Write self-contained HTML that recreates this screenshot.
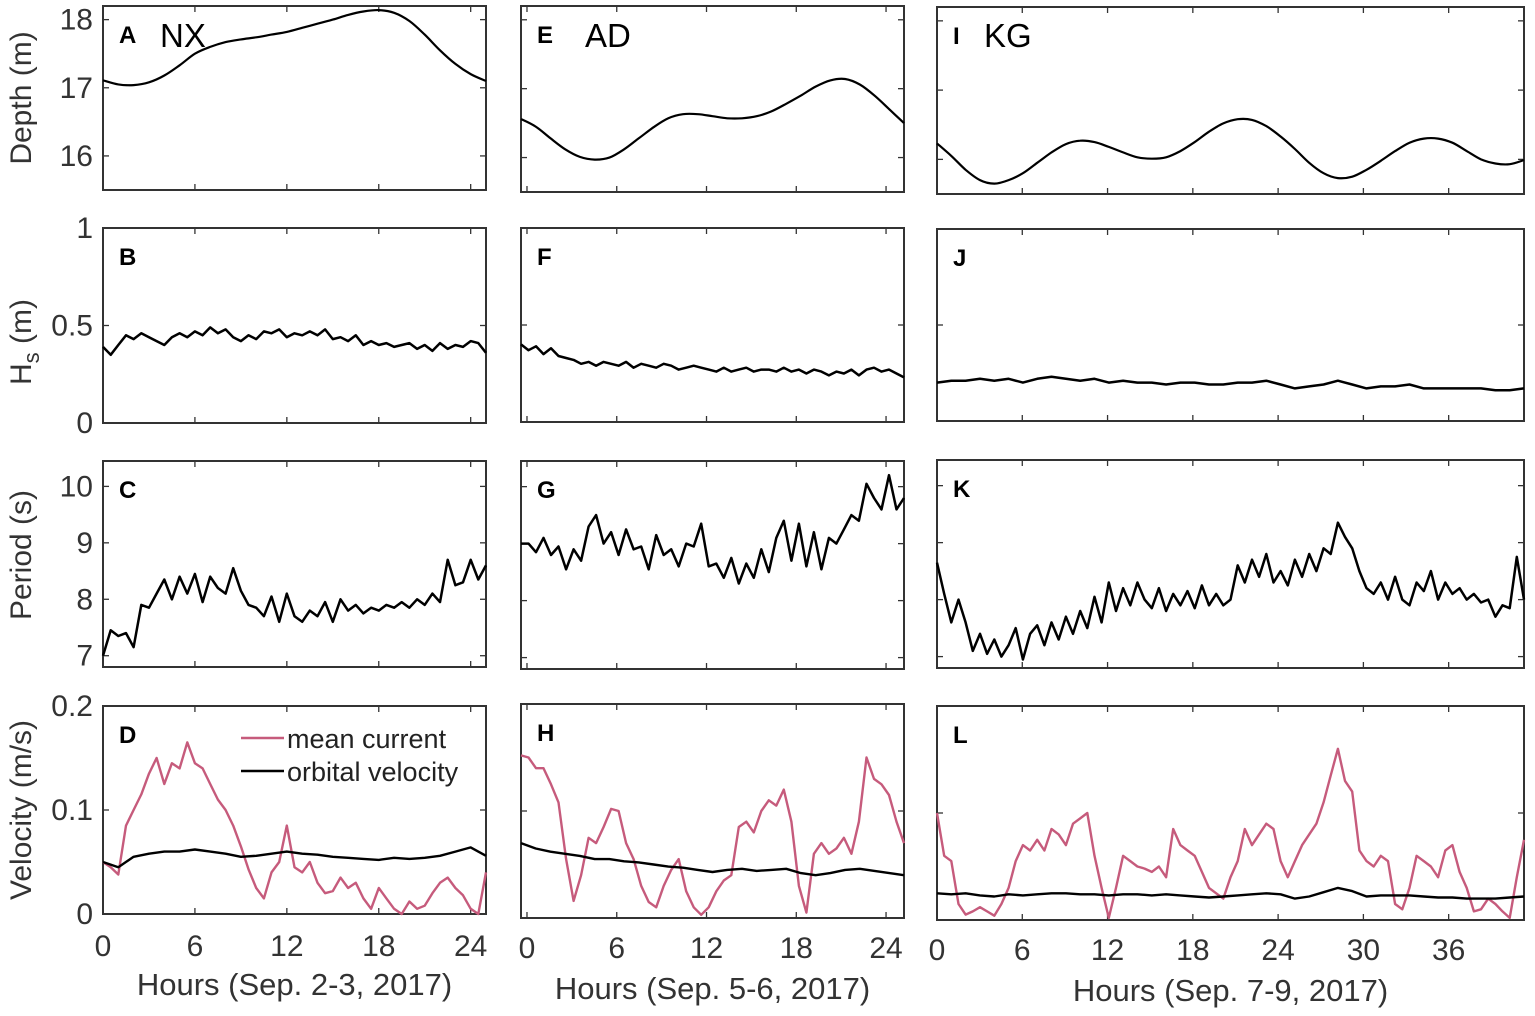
<!DOCTYPE html>
<html><head><meta charset="utf-8">
<style>
html,body{margin:0;padding:0;background:#fff;}
svg{display:block;font-family:"Liberation Sans",Arial,sans-serif;}
</style></head>
<body>
<svg id="fig" width="1535" height="1016" viewBox="0 0 1535 1016" xmlns="http://www.w3.org/2000/svg"></svg>
<script>
// ---------- data ----------
const depthNX = [17.11,17.05,17.04,17.08,17.18,17.33,17.5,17.6,17.67,17.71,17.74,17.78,17.82,17.88,17.94,18.0,18.07,18.12,18.14,18.1,17.98,17.78,17.55,17.35,17.2,17.1];
const depthAD = [16.56,16.45,16.28,16.12,16.01,15.97,16.0,16.12,16.28,16.44,16.57,16.63,16.63,16.6,16.57,16.57,16.6,16.67,16.78,16.9,17.03,17.12,17.14,17.06,16.9,16.7,16.5];
const depthKG = [16.23,16.05,15.85,15.7,15.65,15.7,15.8,15.95,16.1,16.22,16.27,16.25,16.18,16.1,16.03,16.01,16.03,16.12,16.25,16.4,16.52,16.58,16.57,16.48,16.33,16.15,15.95,15.8,15.73,15.75,15.85,15.98,16.12,16.24,16.3,16.3,16.24,16.12,16.0,15.94,15.93,15.99];

const hsNX = [0.39,0.35,0.40,0.45,0.43,0.46,0.44,0.42,0.40,0.44,0.46,0.44,0.47,0.45,0.49,0.46,0.48,0.44,0.42,0.45,0.43,0.47,0.46,0.48,0.44,0.46,0.45,0.47,0.45,0.48,0.43,0.44,0.42,0.45,0.40,0.42,0.40,0.41,0.39,0.40,0.41,0.38,0.40,0.37,0.41,0.38,0.40,0.39,0.42,0.41,0.36];
const hsAD = [0.40,0.37,0.39,0.35,0.38,0.34,0.33,0.32,0.30,0.31,0.29,0.31,0.30,0.29,0.31,0.28,0.30,0.29,0.28,0.30,0.29,0.27,0.28,0.29,0.28,0.27,0.26,0.28,0.26,0.27,0.28,0.26,0.27,0.27,0.26,0.28,0.26,0.27,0.25,0.27,0.26,0.24,0.26,0.25,0.27,0.24,0.27,0.28,0.26,0.27,0.25,0.23];
const hsKG = [0.20,0.21,0.21,0.22,0.21,0.22,0.20,0.22,0.23,0.22,0.21,0.22,0.20,0.21,0.20,0.20,0.19,0.20,0.20,0.19,0.19,0.20,0.20,0.21,0.19,0.17,0.18,0.19,0.21,0.19,0.17,0.18,0.18,0.19,0.17,0.17,0.17,0.17,0.17,0.16,0.16,0.17];

const perNX = [7.0,7.45,7.35,7.4,7.15,7.9,7.85,8.1,8.35,8.0,8.4,8.1,8.45,7.95,8.4,8.2,8.1,8.55,8.15,7.9,7.85,7.7,8.05,7.6,8.1,7.7,7.6,7.8,7.7,7.95,7.6,8.0,7.8,7.9,7.75,7.85,7.8,7.9,7.85,7.95,7.85,8.0,7.9,8.1,7.95,8.7,8.25,8.3,8.7,8.35,8.6];
const perAD = [9.0,9.0,8.85,9.1,8.8,8.95,8.55,8.9,8.7,9.3,9.5,9.0,9.2,8.8,9.25,8.9,8.95,8.55,9.15,8.8,8.9,8.6,9.0,8.95,9.35,8.6,8.65,8.4,8.75,8.3,8.65,8.4,8.9,8.5,9.1,9.4,8.7,9.35,8.6,9.2,8.55,9.1,9.0,9.25,9.5,9.4,10.05,9.8,9.6,10.2,9.6,9.8];
const perKG = [8.65,8.1,7.6,8.0,7.6,7.1,7.4,7.05,7.3,7.0,7.2,7.5,6.95,7.4,7.55,7.2,7.6,7.3,7.7,7.4,7.8,7.5,8.05,7.6,8.3,7.8,8.2,7.9,8.3,8.0,7.85,8.2,7.8,8.1,7.9,8.15,7.85,8.25,7.9,8.1,7.9,8.0,8.6,8.3,8.7,8.4,8.8,8.3,8.5,8.25,8.7,8.4,8.8,8.5,8.9,8.8,9.35,9.1,8.9,8.5,8.2,8.1,8.3,8.0,8.4,8.0,7.9,8.3,8.15,8.5,8.0,8.3,8.1,8.2,8.0,8.1,7.95,8.0,7.7,7.9,7.85,8.75,8.0];

const curNX = [0.050,0.045,0.038,0.085,0.100,0.115,0.135,0.150,0.125,0.145,0.140,0.165,0.145,0.140,0.125,0.110,0.100,0.085,0.065,0.043,0.025,0.015,0.040,0.050,0.085,0.045,0.040,0.050,0.030,0.020,0.022,0.035,0.025,0.030,0.015,0.005,0.025,0.015,0.005,0.000,0.012,0.005,0.008,0.020,0.030,0.035,0.025,0.018,0.005,0.000,0.040];
const orbNX = [0.050,0.045,0.055,0.058,0.060,0.060,0.062,0.060,0.058,0.055,0.056,0.058,0.060,0.058,0.057,0.055,0.054,0.053,0.052,0.054,0.053,0.054,0.056,0.060,0.064,0.056];
const curAD = [0.152,0.150,0.140,0.140,0.125,0.108,0.055,0.016,0.040,0.075,0.070,0.085,0.102,0.100,0.070,0.055,0.030,0.015,0.010,0.030,0.045,0.055,0.025,0.010,0.003,0.010,0.025,0.035,0.040,0.085,0.090,0.080,0.100,0.110,0.105,0.120,0.090,0.030,0.005,0.060,0.070,0.060,0.065,0.075,0.060,0.090,0.150,0.130,0.125,0.115,0.090,0.070];
const orbAD = [0.070,0.065,0.062,0.060,0.058,0.055,0.055,0.053,0.052,0.050,0.048,0.047,0.045,0.043,0.045,0.046,0.044,0.045,0.046,0.042,0.040,0.042,0.045,0.046,0.044,0.042,0.040];
const curKG = [0.100,0.060,0.055,0.015,0.005,0.008,0.012,0.008,0.004,0.015,0.030,0.055,0.070,0.065,0.075,0.065,0.085,0.080,0.070,0.090,0.095,0.100,0.060,0.030,0.002,0.030,0.060,0.055,0.050,0.048,0.045,0.050,0.040,0.085,0.070,0.065,0.060,0.045,0.030,0.025,0.020,0.040,0.055,0.085,0.070,0.080,0.090,0.085,0.055,0.040,0.055,0.070,0.080,0.090,0.110,0.135,0.160,0.130,0.120,0.065,0.055,0.050,0.060,0.055,0.015,0.010,0.030,0.060,0.055,0.050,0.040,0.065,0.070,0.045,0.030,0.008,0.010,0.020,0.015,0.008,0.002,0.040,0.075];
const orbKG = [0.025,0.024,0.025,0.023,0.022,0.024,0.023,0.024,0.025,0.025,0.024,0.024,0.023,0.024,0.024,0.023,0.024,0.023,0.022,0.021,0.022,0.023,0.024,0.025,0.024,0.020,0.022,0.026,0.030,0.027,0.022,0.023,0.023,0.023,0.022,0.021,0.021,0.020,0.020,0.020,0.021,0.022];

const xTicks12 = [0,6,12,18,24];
const xTicks3 = [0,6,12,18,24,30,36];
const depthTicks = [16,17,18];
const hsTicks = [0,0.5,1];
const hsTickLabels = ["0","0.5","1"];
const perTicks = [7,8,9,10];
const velTicks = [0,0.1,0.2];
const velTickLabels = ["0","0.1","0.2"];
const letters = ["A","B","C","D","E","F","G","H","I","J","K","L"];
const sites = ["NX","AD","KG"];
const xTitles = ["Hours (Sep. 2-3, 2017)","Hours (Sep. 5-6, 2017)","Hours (Sep. 7-9, 2017)"];

// ---------- layout ----------
const NS="http://www.w3.org/2000/svg";
const svg=document.getElementById('fig');
const cols=[
 {x0:103,x1:486,tmin:0,tmax:25,end:25,ticks:xTicks12},
 {x0:521,x1:904,tmin:-0.4,tmax:25.2,end:25.2,ticks:xTicks12},
 {x0:937,x1:1524,tmin:0,tmax:41.3,end:41.3,ticks:xTicks3}
];
const rows=[
 {boxes:[[6,190],[6,192],[7,194]],ymin:15.5,ymax:18.2,ticks:depthTicks,labels:["16","17","18"]},
 {boxes:[[228,423],[228,422],[229,421]],ymin:0,ymax:1,ticks:hsTicks,labels:hsTickLabels},
 {boxes:[[461,667],[461,669],[460,668]],ymin:6.8,ymax:10.45,ticks:perTicks,labels:["7","8","9","10"]},
 {boxes:[[706,914],[704,918],[706,920]],ymin:0,ymax:0.2,ticks:velTicks,labels:velTickLabels}
];
function el(tag,attrs,parent){const e=document.createElementNS(NS,tag);for(const k in attrs)e.setAttribute(k,attrs[k]);(parent||svg).appendChild(e);return e;}
function xScale(c,t){return c.x0+(t-c.tmin)/(c.tmax-c.tmin)*(c.x1-c.x0);}
function yScale(r,ci,v){const b=r.boxes[ci];return b[1]-(v-r.ymin)/(r.ymax-r.ymin)*(b[1]-b[0]);}
function series(ci,ri,vals,color,name,w,smooth){
  const c=cols[ci],r=rows[ri];
  const n=vals.length;const dt=(c.end-c.tmin)/(n-1);
  const pts=vals.map((v,i)=>[xScale(c,c.tmin+i*dt),yScale(r,ci,v)]);
  let d='M'+pts[0][0].toFixed(1)+','+pts[0][1].toFixed(1);
  if(smooth){
    for(let i=0;i<n-1;i++){
      const p0=pts[Math.max(0,i-1)],p1=pts[i],p2=pts[i+1],p3=pts[Math.min(n-1,i+2)];
      const c1=[p1[0]+(p2[0]-p0[0])/6,p1[1]+(p2[1]-p0[1])/6];
      const c2=[p2[0]-(p3[0]-p1[0])/6,p2[1]-(p3[1]-p1[1])/6];
      d+=' C'+c1[0].toFixed(1)+','+c1[1].toFixed(1)+' '+c2[0].toFixed(1)+','+c2[1].toFixed(1)+' '+p2[0].toFixed(1)+','+p2[1].toFixed(1);
    }
  } else {
    for(let i=1;i<n;i++) d+=' L'+pts[i][0].toFixed(1)+','+pts[i][1].toFixed(1);
  }
  const p=el('path',{d:d,fill:'none',stroke:color,'stroke-width':w,'stroke-linejoin':'round'});
  
  
}

// panels
for(let ri=0;ri<4;ri++){
  for(let ci=0;ci<3;ci++){
    const c=cols[ci],r=rows[ri],b=r.boxes[ci];
    const g=el('g',{});
    
    
    c.ticks.forEach(t=>{
      const x=xScale(c,t);
      el('line',{x1:x,x2:x,y1:b[1],y2:b[1]-6,stroke:'#333','stroke-width':1.3},g);
      el('line',{x1:x,x2:x,y1:b[0],y2:b[0]+6,stroke:'#333','stroke-width':1.3},g);
    });
    r.ticks.forEach((v,k)=>{
      const y=yScale(r,ci,v);
      el('line',{x1:c.x0,x2:c.x0+6,y1:y,y2:y,stroke:'#333','stroke-width':1.3},g);
      el('line',{x1:c.x1,x2:c.x1-6,y1:y,y2:y,stroke:'#333','stroke-width':1.3},g);
      if(ci===0){
        const t=el('text',{x:93,y:y+10,'text-anchor':'end','font-size':30,fill:'#333'},g);
        t.textContent=r.labels[k];
        
        
      }
    });
    const box=el('rect',{x:c.x0,y:b[0],width:c.x1-c.x0,height:b[1]-b[0],fill:'none',stroke:'#333','stroke-width':2},g);
    
    
    const lt=el('text',{x:c.x0+16,y:b[0]+37,'font-size':24,'font-weight':'bold',fill:'#000'},g);
    lt.textContent=letters[ci*4+ri];
    
    
  }
}
[[160,47],[585,47],[984,47]].forEach((p,i)=>{
  const t=el('text',{x:p[0],y:p[1],'font-size':33,fill:'#000'});
  t.textContent=sites[i];
  
  
});
series(0,0,depthNX,'#000','depth-nx',2.2,true);
series(1,0,depthAD,'#000','depth-ad',2.2,true);
series(2,0,depthKG,'#000','depth-kg',2.2,true);
series(0,1,hsNX,'#000','hs-nx',2.5,false);
series(1,1,hsAD,'#000','hs-ad',2.5,false);
series(2,1,hsKG,'#000','hs-kg',2.5,false);
series(0,2,perNX,'#000','period-nx',2.5,false);
series(1,2,perAD,'#000','period-ad',2.5,false);
series(2,2,perKG,'#000','period-kg',2.5,false);
series(0,3,curNX,'#c65b7c','mean-current-nx',2.4,false);
series(0,3,orbNX,'#000','orbital-velocity-nx',2.4,false);
series(1,3,curAD,'#c65b7c','mean-current-ad',2.4,false);
series(1,3,orbAD,'#000','orbital-velocity-ad',2.4,false);
series(2,3,curKG,'#c65b7c','mean-current-kg',2.4,false);
series(2,3,orbKG,'#000','orbital-velocity-kg',2.4,false);

const xlabY=[956,958,960], xtitY=[995,999,1001];
cols.forEach((c,ci)=>{
  c.ticks.forEach(t=>{
    const tx=el('text',{x:xScale(c,t),y:xlabY[ci],'text-anchor':'middle','font-size':30,fill:'#333'});
    tx.textContent=String(t);
    
    
  });
  const tt=el('text',{x:(c.x0+c.x1)/2,y:xtitY[ci],'text-anchor':'middle','font-size':31,fill:'#333'});
  tt.textContent=xTitles[ci];
  
  
});
const yT=[["Depth (m)",98],["Period (s)",555],["Velocity (m/s)",810]];
yT.forEach(a=>{
  const t=el('text',{x:0,y:0,'text-anchor':'middle','font-size':30,fill:'#333',transform:'translate(31,'+a[1]+') rotate(-90)'});
  t.textContent=a[0];
  
  
});
const hs=el('text',{x:0,y:0,'text-anchor':'middle','font-size':30,fill:'#333',transform:'translate(31,342) rotate(-90)'});
hs.innerHTML='H<tspan font-size="22" dy="8">s</tspan><tspan dy="-8"> (m)</tspan>';



const lg=el('g',{});


el('line',{x1:241,x2:284,y1:738,y2:738,stroke:'#c65b7c','stroke-width':2.4},lg);
el('line',{x1:241,x2:284,y1:771,y2:771,stroke:'#000','stroke-width':2.4},lg);
const l1=el('text',{x:287,y:748,'font-size':27,fill:'#222'},lg);l1.textContent='mean current';


const l2=el('text',{x:287,y:781,'font-size':27,fill:'#222'},lg);l2.textContent='orbital velocity';


</script>
</body></html>
